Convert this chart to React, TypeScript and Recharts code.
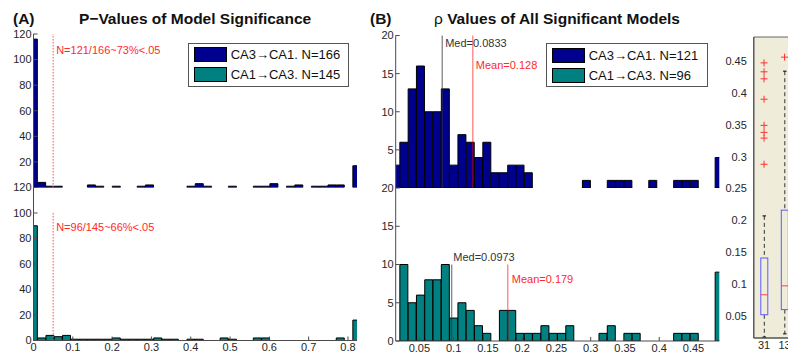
import React from "react";
import { ComposedChart, Bar, Scatter, XAxis, YAxis, ReferenceLine, ReferenceArea, Legend } from "recharts";

// panel A: p-values, 40 bins centred from 0 to 0.823
const pRange: [number, number] = [0, 0.823];
const pCA3toCA1 = [116, 4, 1, 1, 0, 0, 0, 2, 1, 0, 1, 0, 0, 1, 2, 0, 0, 0, 0, 1, 3, 1, 0, 0, 1, 0, 0, 1, 1, 3, 0, 1, 2, 0, 1, 1, 2, 2, 0, 17];
const pCA1toCA3 = [90, 2, 4, 3, 4, 1, 1, 1, 1, 1, 2, 1, 1, 1, 1, 2, 1, 1, 0, 1, 1, 0, 0, 2, 1, 0, 0, 2, 2, 0, 0, 0, 0, 0, 0, 0, 0, 2, 0, 16];
const pTicks = [0, 0.1, 0.2, 0.3, 0.4, 0.5, 0.6, 0.7, 0.8];
const pTopYTicks = [20, 40, 60, 80, 100, 120];
const pBottomYTicks = [0, 20, 40, 60, 80, 100, 120];

// panel B: rho of significant models, 40 bins centred from 0.0155 to 0.4876
const rhoRange: [number, number] = [0.0155, 0.4876];
const rhoCA3toCA1 = [3, 6, 13, 16, 10, 10, 13, 3, 7, 6, 4, 6, 2, 2, 3, 3, 2, 0, 0, 0, 0, 0, 0, 1, 0, 0, 1, 1, 1, 0, 0, 1, 0, 0, 1, 1, 1, 0, 0, 4];
const rhoCA1toCA3 = [0, 10, 5, 6, 8, 8, 10, 3, 5, 4, 2, 1, 0, 4, 4, 1, 1, 1, 2, 1, 1, 2, 0, 0, 0, 1, 2, 0, 1, 1, 0, 0, 0, 0, 1, 1, 1, 0, 0, 9];
const rhoTicks = [0.05, 0.1, 0.15, 0.2, 0.25, 0.3, 0.35, 0.4, 0.45];
const rhoTopYTicks = [5, 10, 15, 20];
const rhoBottomYTicks = [0, 5, 10, 15, 20];

// box plot of rho per direction
const boxNames = ["31", "13"];
const boxLow = [0.017, 0.022];
const boxQ1 = [0.052, 0.06];
const boxMedian = [0.0833, 0.0973];
const boxQ3 = [0.141, 0.216];
const boxHigh = [0.207, 0.434];
const outliers31 = [0.288, 0.329, 0.338, 0.349, 0.39, 0.422, 0.433, 0.447];
const outliers13 = [0.456];
const boxTicks = [0.05, 0.1, 0.15, 0.2, 0.25, 0.3, 0.35, 0.4, 0.45];

const names = ["CA3→CA1", "CA1→CA3"];
const colors = ["#00008f", "#008080"];
const pN = [166, 145];
const rhoN = [121, 96];

const W = 788;
const H = 358;
const FONT = '"Liberation Sans", Arial, Helvetica, sans-serif';
const AXIS = "#4a4a4a";
const TICK = { fontSize: 11, fill: "#262626" };

const toBins = (counts: number[], [lo, hi]: [number, number]) =>
  counts.map((c, i) => ({ x: lo + (i * (hi - lo)) / (counts.length - 1), c }));

const annot = (text: string, dx: number, dy: number, color: string) => (props: any) => {
  const vb = props.viewBox || { x: 0, y: 0 };
  return (
    <text x={vb.x + dx} y={vb.y + dy} fill={color} fontSize={11} fontFamily={FONT}>
      {text}
    </text>
  );
};

function LegendBox({ counts, width }: { counts: number[]; width: number }) {
  return (
    <div style={{ position: "relative", width, height: 44, background: "#fff", border: "1px solid #555", boxSizing: "border-box", fontFamily: FONT }}>
      {names.map((n, i) => (
        <div key={n} style={{ position: "absolute", left: 5, top: 3 + i * 20, height: 16, display: "flex", alignItems: "center", whiteSpace: "nowrap" }}>
          <span style={{ display: "inline-block", width: 33, height: 15, background: colors[i], border: "1px solid #000", boxSizing: "border-box", marginRight: 4 }} />
          <span style={{ fontSize: 13, color: "#111" }}>{`${n}. N=${counts[i]}`}</span>
        </div>
      ))}
    </div>
  );
}

type HistProps = {
  counts: number[];
  color: string;
  xDomain: [number, number];
  xTicks: number[];
  yMax: number;
  yTicks: number[];
  plotLeft: number;
  plotRight: number;
  plotTop: number;
  plotBottom: number;
  lower: boolean;
  children?: React.ReactNode;
};

function Hist({ counts, color, xDomain, xTicks, yMax, yTicks, plotLeft, plotRight, plotTop, plotBottom, lower, children }: HistProps) {
  const yW = 30;
  return (
    <div style={{ position: "absolute", left: 0, top: 0 }}>
      <ComposedChart
        width={W}
        height={H}
        data={toBins(counts, xDomain)}
        barCategoryGap={0}
        barGap={0}
        margin={{ top: plotTop, left: plotLeft - yW, right: W - plotRight, bottom: lower ? 0 : H - plotBottom }}
      >
        <XAxis xAxisId="b" dataKey="x" type="number" domain={xDomain} allowDataOverflow ticks={xTicks} interval={0}
          hide={!lower} height={H - plotBottom} stroke={AXIS} tick={TICK} tickSize={-4} tickMargin={7} />
        {lower && (
          <XAxis xAxisId="t" orientation="top" dataKey="x" type="number" domain={xDomain} allowDataOverflow ticks={xTicks}
            interval={0} height={0} stroke={AXIS} tick={false} tickSize={-4} />
        )}
        <YAxis yAxisId="l" type="number" domain={[0, yMax]} allowDataOverflow ticks={yTicks} interval={0} width={yW}
          stroke={AXIS} tick={TICK} tickSize={-4} tickMargin={6} />
        {lower && (
          <YAxis yAxisId="r" orientation="right" type="number" domain={[0, yMax]} ticks={yTicks} interval={0} width={0}
            stroke={AXIS} tick={false} tickSize={-4} />
        )}
        <Bar xAxisId="b" yAxisId="l" dataKey="c" fill={color} stroke="#000" strokeWidth={1} isAnimationActive={false} />
        {children}
      </ComposedChart>
    </div>
  );
}

function BoxShape(props: any) {
  const { x, y, width, height, payload } = props;
  if (!payload || height == null) return null;
  const py = (v: number) => y + (height * (payload.hi - v)) / (payload.hi - payload.lo);
  const cx = x + width / 2;
  const cap = width / 4;
  return (
    <g>
      <line x1={cx} x2={cx} y1={py(payload.hi)} y2={py(payload.q3)} stroke="#333" strokeDasharray="4 3" />
      <line x1={cx} x2={cx} y1={py(payload.q1)} y2={py(payload.lo)} stroke="#333" strokeDasharray="4 3" />
      <line x1={cx - cap} x2={cx + cap} y1={py(payload.hi)} y2={py(payload.hi)} stroke="#000" />
      <line x1={cx - cap} x2={cx + cap} y1={py(payload.lo)} y2={py(payload.lo)} stroke="#000" />
      <rect x={x} y={py(payload.q3)} width={width} height={py(payload.q1) - py(payload.q3)} fill="none" stroke="#5a5aff" />
      <line x1={x} x2={x + width} y1={py(payload.med)} y2={py(payload.med)} stroke="#ff4040" />
    </g>
  );
}

function Plus(props: any) {
  const { cx, cy } = props;
  return (
    <g stroke="#ff3030" strokeWidth={1}>
      <line x1={cx - 3.5} x2={cx + 3.5} y1={cy} y2={cy} />
      <line x1={cx} x2={cx} y1={cy - 3.5} y2={cy + 3.5} />
    </g>
  );
}

function BoxPanel() {
  const data = boxNames.map((name, i) => ({ pos: i + 1, name, lo: boxLow[i], q1: boxQ1[i], med: boxMedian[i], q3: boxQ3[i], hi: boxHigh[i] }));
  const outliers = [...outliers31.map((v) => ({ pos: 1, v })), ...outliers13.map((v) => ({ pos: 2, v }))];
  const cw = 830;
  return (
    <div style={{ position: "absolute", left: 0, top: 0 }}>
      <ComposedChart width={cw} height={H} data={data} margin={{ top: 37, left: 720, right: cw - 794.8, bottom: 0 }}>
        <XAxis xAxisId="b" dataKey="pos" type="number" domain={[0.5, 2.5]} allowDataOverflow ticks={[1, 2]} interval={0}
          tickFormatter={(v: number) => boxNames[v - 1]} height={20} stroke={AXIS} tick={TICK} tickLine={false} tickSize={0} tickMargin={3} />
        <YAxis yAxisId="l" type="number" domain={rhoRange} allowDataOverflow ticks={boxTicks} interval={0} width={33.8}
          stroke={AXIS} tick={TICK} tickLine={false} tickSize={0} tickMargin={7} />
        <ReferenceArea xAxisId="b" yAxisId="l" x1={0.5} x2={2.5} y1={rhoRange[0]} y2={rhoRange[1]} fill="#efedda" fillOpacity={1} stroke="#666" />
        <Bar xAxisId="b" yAxisId="l" dataKey={(d: any) => [d.lo, d.hi]} barSize={7} shape={(p: any) => <BoxShape {...p} />} isAnimationActive={false} />
        <Scatter xAxisId="b" yAxisId="l" data={outliers} dataKey="v" shape={(p: any) => <Plus {...p} />} isAnimationActive={false} />
      </ComposedChart>
    </div>
  );
}

const titleStyle: React.CSSProperties = { position: "absolute", top: 10, fontSize: 15.5, lineHeight: "18px", fontWeight: "bold", whiteSpace: "nowrap", color: "#111" };

export default function App() {
  const aX = { plotLeft: 33.5, plotRight: 357 };
  const bX = { plotLeft: 395.7, plotRight: 719.3 };
  return (
    <div style={{ position: "fixed", left: 0, top: 0, width: W, height: H, overflow: "hidden", background: "#fff", fontFamily: FONT }}>
      <div style={{ ...titleStyle, left: 13 }}>(A)</div>
      <div style={{ ...titleStyle, left: 79 }}>P−Values of Model Significance</div>
      <div style={{ ...titleStyle, left: 370 }}>(B)</div>
      <div style={{ ...titleStyle, left: 434 }}>
        <span style={{ fontWeight: "normal" }}>ρ</span> Values of All Significant Models
      </div>

      <Hist counts={pCA3toCA1} color={colors[0]} xDomain={pRange} xTicks={pTicks} yMax={120} yTicks={pTopYTicks}
        {...aX} plotTop={34} plotBottom={187.5} lower={false}>
        <ReferenceLine xAxisId="b" yAxisId="l" segment={[{ x: 0.05, y: 0 }, { x: 0.05, y: 120 }]} stroke="#ff5050" strokeDasharray="1.5 1.5"
          label={annot("N=121/166~73%<.05", 3, 20, "#ff2a2a")} />
        <Legend layout="vertical" verticalAlign="middle" align="center"
          wrapperStyle={{ position: "absolute", left: 187.7, top: 42.7, width: 161, height: 44 }}
          content={() => <LegendBox counts={pN} width={161} />} />
      </Hist>
      <Hist counts={pCA1toCA3} color={colors[1]} xDomain={pRange} xTicks={pTicks} yMax={120} yTicks={pBottomYTicks}
        {...aX} plotTop={187.5} plotBottom={340.5} lower>
        <ReferenceLine xAxisId="b" yAxisId="l" segment={[{ x: 0.05, y: 0 }, { x: 0.05, y: 100 }]} stroke="#ff5050" strokeDasharray="1.5 1.5"
          label={annot("N=96/145~66%<.05", 3, 17.7, "#ff2a2a")} />
      </Hist>

      <Hist counts={rhoCA3toCA1} color={colors[0]} xDomain={rhoRange} xTicks={rhoTicks} yMax={20} yTicks={rhoTopYTicks}
        {...bX} plotTop={35.5} plotBottom={188} lower={false}>
        <ReferenceLine xAxisId="b" yAxisId="l" segment={[{ x: 0.0833, y: 0 }, { x: 0.0833, y: 20 }]} stroke="#333" strokeOpacity={0.8}
          label={annot("Med=0.0833", 3, 11, "#333")} />
        <ReferenceLine xAxisId="b" yAxisId="l" segment={[{ x: 0.128, y: 0 }, { x: 0.128, y: 20 }]} stroke="#ff0000" strokeOpacity={0.55} strokeWidth={1.2}
          label={annot("Mean=0.128", 3, 33.5, "#ff2a2a")} />
        <Legend layout="vertical" verticalAlign="middle" align="center"
          wrapperStyle={{ position: "absolute", left: 545.7, top: 43.3, width: 162, height: 44 }}
          content={() => <LegendBox counts={rhoN} width={162} />} />
      </Hist>
      <Hist counts={rhoCA1toCA3} color={colors[1]} xDomain={rhoRange} xTicks={rhoTicks} yMax={20} yTicks={rhoBottomYTicks}
        {...bX} plotTop={188} plotBottom={341} lower>
        <ReferenceLine xAxisId="b" yAxisId="l" segment={[{ x: 0.0973, y: 0 }, { x: 0.0973, y: 10 }]} stroke="#333" strokeOpacity={0.8}
          label={annot("Med=0.0973", 1.5, -3.5, "#333")} />
        <ReferenceLine xAxisId="b" yAxisId="l" segment={[{ x: 0.179, y: 0 }, { x: 0.179, y: 10 }]} stroke="#ff0000" strokeOpacity={0.55} strokeWidth={1.2}
          label={annot("Mean=0.179", 4, 18.8, "#ff2a2a")} />
      </Hist>

      <BoxPanel />
    </div>
  );
}
